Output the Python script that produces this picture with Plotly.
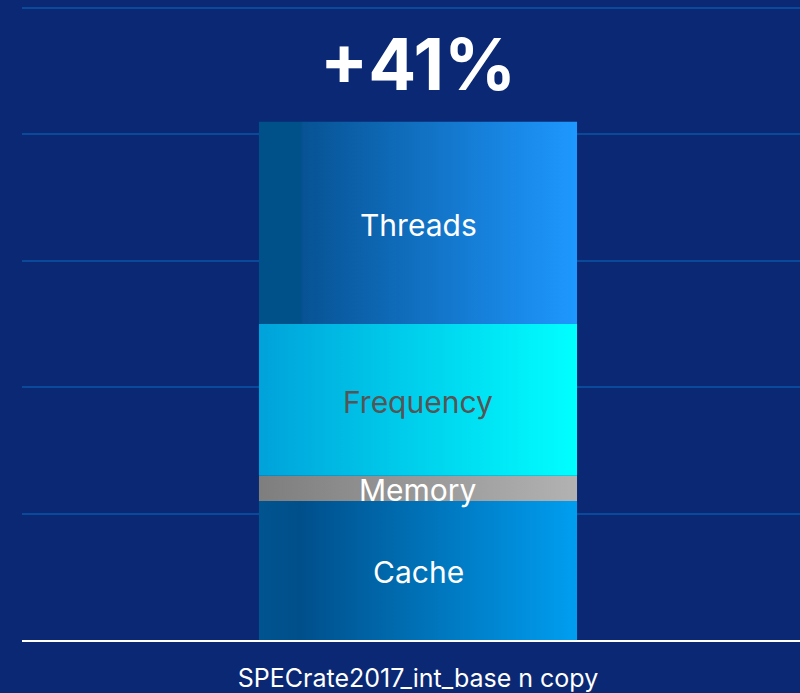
import plotly.graph_objects as go

# ---- data ----
categories = ["SPECrate2017_int_base n copy"]
segments = ["Cache", "Memory", "Frequency", "Threads"]
values = [11.0, 2.0, 12.0, 16.0]          # % uplift contribution
total_label = "+41%"

# ---- styles ----
BG = "#0a2873"
GRID = "#0b4a9a"
gradients = {
    "Cache": [[0, "#00548f"], [0.13, "#004f8b"], [1, "#009ef0"]],
    "Memory": [[0, "#7e7e7e"], [1, "#b2b2b2"]],
    "Frequency": [[0, "#00a2da"], [1, "#00ffff"]],
    "Threads": [[0, "#00508a"], [0.13, "#00508a"], [0.14, "#075394"], [1, "#1e98ff"]],
}
text_colors = {"Cache": "white", "Memory": "white", "Frequency": "#555555", "Threads": "white"}
FONT = "Inter"

fig = go.Figure()
bar_w = 1.0
xc = 0  # category position
base = 0.0
for name, v in zip(segments, values):
    top = base + v
    xs = [xc - bar_w / 2, xc + bar_w / 2, xc + bar_w / 2, xc - bar_w / 2, xc - bar_w / 2]
    ys = [base, base, top, top, base]
    fig.add_trace(go.Scatter(
        x=xs, y=ys, mode="lines", fill="toself",
        line=dict(width=0, color="rgba(0,0,0,0)"),
        fillgradient=dict(type="horizontal", colorscale=gradients[name]),
        hoverinfo="skip", showlegend=False,
    ))
    fig.add_annotation(
        x=xc, y=(base + top) / 2, text=name, showarrow=False,
        yanchor="middle", yshift=-2,
        font=dict(family=FONT, size=30, color=text_colors[name]),
    )
    base = top

fig.add_annotation(
    x=xc, y=base, text="<b>" + total_label + "</b>", showarrow=False,
    yanchor="bottom", yshift=13,
    font=dict(family=FONT, size=71, color="white"),
)

fig.update_layout(
    width=800, height=693,
    margin=dict(l=22, r=0, t=0, b=50),
    paper_bgcolor=BG, plot_bgcolor=BG,
    xaxis=dict(
        range=[-1.245, 1.201], tickvals=[xc], ticktext=categories,
        showgrid=False, zeroline=False, showline=True, linecolor="white", linewidth=2,
        ticks="", tickfont=dict(family=FONT, size=25, color="white"),
        ticklabelstandoff=15,
    ),
    yaxis=dict(
        range=[0, 50.63], dtick=10, showticklabels=False, ticks="",
        showgrid=True, gridcolor=GRID, gridwidth=2, zeroline=False, showline=False,
    ),
)

fig.write_html(
    "out.html",
    config={"displayModeBar": False},
    post_script="document.body.style.margin='0';document.body.style.background='" + BG + "';",
)
